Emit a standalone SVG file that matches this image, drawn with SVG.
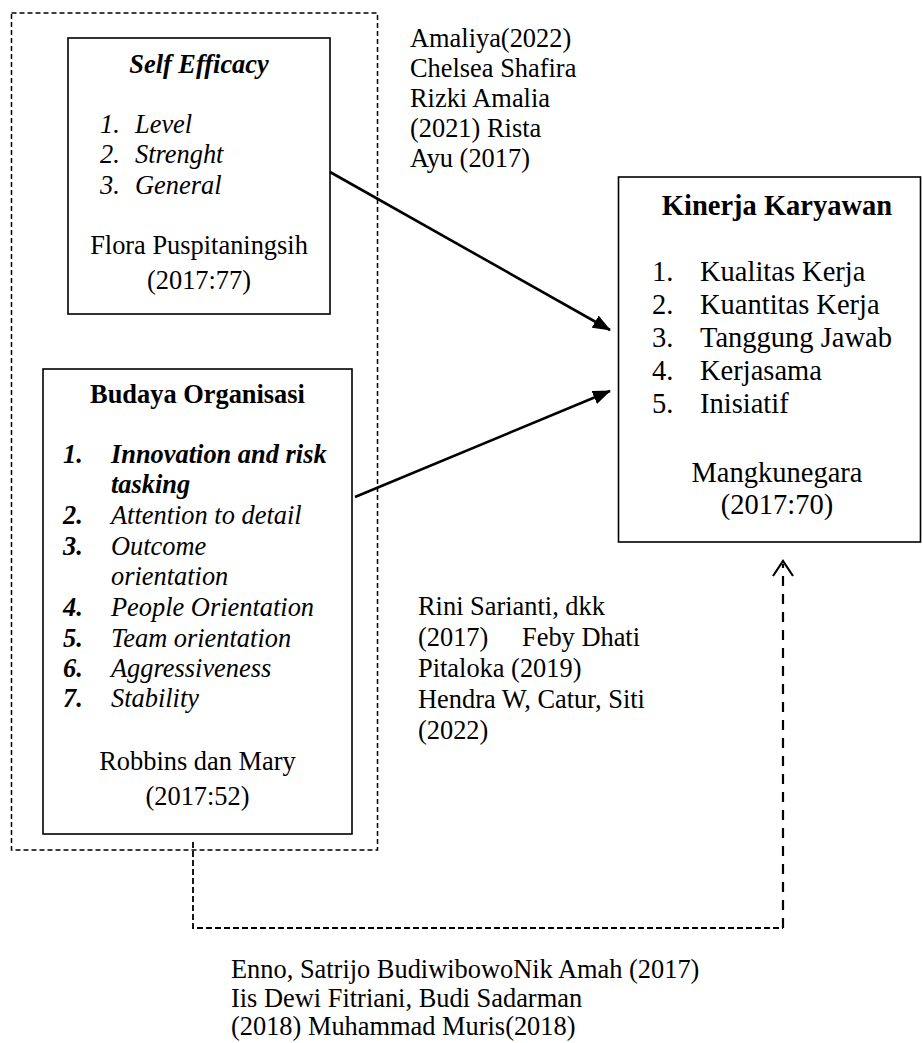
<svg xmlns="http://www.w3.org/2000/svg" width="923" height="1043" viewBox="0 0 923 1043">
<defs>
<style>
text{font-family:"Liberation Serif","Times New Roman",serif;fill:#000;}
.t{font-size:26.4px;}
.k{font-size:28.5px;}
.b{font-weight:bold;}
.i{font-style:italic;}
.c{text-anchor:middle;}
.box{fill:#fff;stroke:#000;stroke-width:1.6;}
.arrow{stroke:#000;stroke-width:2.6;fill:none;}
</style>
<marker id="ah" viewBox="0 0 18 14" refX="17" refY="7" markerWidth="18" markerHeight="14" markerUnits="userSpaceOnUse" orient="auto">
<path d="M0,0 L18,7 L0,14 Z" fill="#000"/>
</marker>
</defs>
<rect width="923" height="1043" fill="#fff"/>

<g id="outer-group">
<rect x="11.5" y="13" width="366" height="837" fill="none" stroke="#000" stroke-width="1.5" stroke-dasharray="5,3"/>
</g>

<g id="self-efficacy">
<rect class="box" x="68" y="38" width="262" height="276"/>
<text class="t b i c" x="199" y="73">Self Efficacy</text>
<text class="t i" x="100" y="133">1.</text><text class="t i" x="135" y="133">Level</text>
<text class="t i" x="100" y="163">2.</text><text class="t i" x="135" y="163">Strenght</text>
<text class="t i" x="100" y="194">3.</text><text class="t i" x="135" y="194">General</text>
<text class="t c" x="199" y="254">Flora Puspitaningsih</text>
<text class="t c" x="199" y="289">(2017:77)</text>
</g>

<g id="budaya-organisasi">
<rect class="box" x="43" y="369" width="309" height="465"/>
<text class="t b c" x="197.5" y="403">Budaya Organisasi</text>
<text class="t b i" x="63" y="463">1.</text><text class="t b i" x="111" y="463">Innovation and risk</text>
<text class="t b i" x="111" y="493">tasking</text>
<text class="t b i" x="63" y="524">2.</text><text class="t i" x="111" y="524">Attention to detail</text>
<text class="t b i" x="63" y="555">3.</text><text class="t i" x="111" y="555">Outcome</text>
<text class="t i" x="111" y="585">orientation</text>
<text class="t b i" x="63" y="616">4.</text><text class="t i" x="111" y="616">People Orientation</text>
<text class="t b i" x="63" y="647">5.</text><text class="t i" x="111" y="647">Team orientation</text>
<text class="t b i" x="63" y="677">6.</text><text class="t i" x="111" y="677">Aggressiveness</text>
<text class="t b i" x="63" y="707">7.</text><text class="t i" x="111" y="707">Stability</text>
<text class="t c" x="197.5" y="770">Robbins dan Mary</text>
<text class="t c" x="197.5" y="805">(2017:52)</text>
</g>

<g id="kinerja-karyawan">
<rect class="box" x="618.5" y="177" width="302" height="365"/>
<text class="k b c" x="777" y="215">Kinerja Karyawan</text>
<text class="k" x="652" y="281">1.</text><text class="k" x="700" y="281">Kualitas Kerja</text>
<text class="k" x="652" y="314">2.</text><text class="k" x="700" y="314">Kuantitas Kerja</text>
<text class="k" x="652" y="347">3.</text><text class="k" x="700" y="347">Tanggung Jawab</text>
<text class="k" x="652" y="380">4.</text><text class="k" x="700" y="380">Kerjasama</text>
<text class="k" x="652" y="413">5.</text><text class="k" x="700" y="413">Inisiatif</text>
<text class="k c" x="777" y="482">Mangkunegara</text>
<text class="k c" x="777" y="514">(2017:70)</text>
</g>

<g id="ref-top">
<text class="t" x="410" y="47">Amaliya(2022)</text>
<text class="t" x="410" y="77">Chelsea Shafira</text>
<text class="t" x="410" y="107">Rizki Amalia</text>
<text class="t" x="410" y="137">(2021) Rista</text>
<text class="t" x="410" y="167">Ayu (2017)</text>
</g>

<g id="ref-middle">
<text class="t" x="418" y="615">Rini Sarianti, dkk</text>
<text class="t" x="418" y="646">(2017)<tspan x="522">Feby Dhati</tspan></text>
<text class="t" x="418" y="677">Pitaloka (2019)</text>
<text class="t" x="418" y="708">Hendra W, Catur, Siti</text>
<text class="t" x="418" y="739">(2022)</text>
</g>

<g id="ref-bottom">
<text class="t" x="231" y="978">Enno, Satrijo BudiwibowoNik Amah (2017)</text>
<text class="t" x="231" y="1007">Iis Dewi Fitriani, Budi Sadarman</text>
<text class="t" x="231" y="1035">(2018) Muhammad Muris(2018)</text>
</g>

<g id="connectors">
<line class="arrow" x1="330" y1="172" x2="610" y2="330" marker-end="url(#ah)"/>
<line class="arrow" x1="355" y1="497" x2="610" y2="391" marker-end="url(#ah)"/>
<path d="M193,842 V928 H783" fill="none" stroke="#000" stroke-width="1.8" stroke-dasharray="6,3"/>
<path d="M783,928 V564" fill="none" stroke="#000" stroke-width="2.2" stroke-dasharray="10,8"/>
<polyline points="773,576 783,561 793,576" fill="none" stroke="#000" stroke-width="2.2"/>
</g>
</svg>
